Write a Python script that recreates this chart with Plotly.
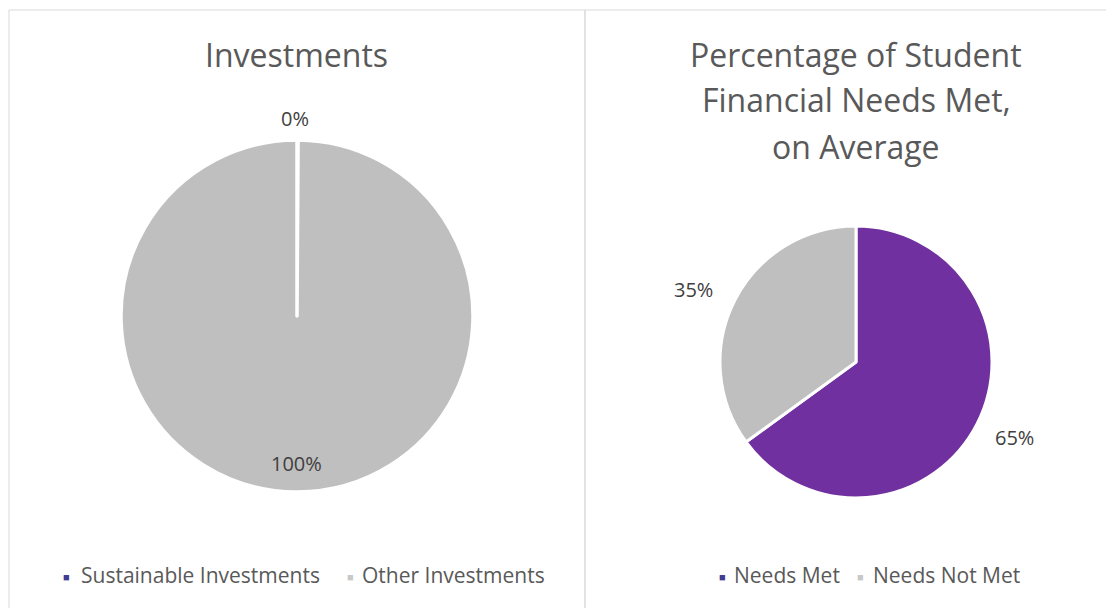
import plotly.graph_objects as go

# data
inv_labels = ["Sustainable Investments", "Other Investments"]
inv_values = [0.1, 99.9]          # shown as 0% / 100%
need_labels = ["Needs Met", "Needs Not Met"]
need_values = [65, 35]

purple = "#7030a0"
legend_purple = "#433a92"
grey = "#bfbfbf"
W, H = 1114, 608
OFF = 8   # page body margin: figure starts 8px in from the window corner
FONT = "Open Sans"


def px(x):
    return (x - OFF) / W


def py(y):
    return 1 - (y - OFF) / H


def pct(vals):
    tot = sum(vals)
    return [f"{round(v / tot * 100)}%" for v in vals]


fig = go.Figure()

fig.add_trace(go.Pie(
    labels=inv_labels, values=inv_values, sort=False, direction="clockwise",
    marker=dict(colors=[purple, grey], line=dict(color="white", width=3.5)),
    textinfo="none", hoverinfo="label+percent", showlegend=False,
    domain=dict(x=[px(121), px(473)], y=[py(492), py(140)]),
))
fig.add_trace(go.Pie(
    labels=need_labels, values=need_values, sort=False, direction="clockwise",
    marker=dict(colors=[purple, grey], line=dict(color="white", width=3)),
    textinfo="none", hoverinfo="label+percent", showlegend=False,
    domain=dict(x=[px(720), px(992)], y=[py(498), py(226)]),
))

ann = []


def text(x, y, s, size=20, color="#404040", anchor="center", weight="normal"):
    ann.append(dict(x=px(x), y=py(y), xref="paper", yref="paper", text=s,
                    showarrow=False, xanchor=anchor, yanchor="middle",
                    font=dict(family=FONT, size=size, color=color, weight=weight)))


# titles
text(297, 54, "Investments", size=32, color="#595959")
for i, line in enumerate(["Percentage of Student", "Financial Needs Met,", "on Average"]):
    text(856, 54 + 46 * i, line, size=32, color="#595959")

# data labels
inv_pct = pct(inv_values)
need_pct = pct(need_values)
text(295, 119, inv_pct[0])
text(297, 463, inv_pct[1])
text(1014, 437, need_pct[0])
text(693, 289, need_pct[1])


# legends
def legend_item(xsq, xtxt, y, label, color):
    text(xsq, y + 1, "■", size=11, color=color)
    text(xtxt, y, label, size=21, color="#595959", anchor="left")


legend_item(66, 79, 575, inv_labels[0], legend_purple)
legend_item(350, 360, 575, inv_labels[1], "#c8c8c8")
legend_item(722, 732, 575, need_labels[0], legend_purple)
legend_item(860, 871, 575, need_labels[1], "#c8c8c8")

# cut-off text above the charts
ann.append(dict(x=px(46), y=py(7), xref="paper", yref="paper", text="Needs.",
                showarrow=False, xanchor="right", yanchor="bottom",
                font=dict(family="Liberation Sans", size=20, color="#000000",
                          weight="bold")))

shapes = [
    dict(type="rect", xref="paper", yref="paper", x0=px(9), x1=px(585),
         y0=py(640), y1=py(10), line=dict(color="#d9d9d9", width=1)),
    dict(type="rect", xref="paper", yref="paper", x0=px(585), x1=px(1140),
         y0=py(640), y1=py(10), line=dict(color="#d9d9d9", width=1)),
]

fig.update_layout(
    width=W, height=H, margin=dict(l=0, r=0, t=0, b=0),
    paper_bgcolor="white", plot_bgcolor="white",
    annotations=ann, shapes=shapes, showlegend=False,
    font=dict(family=FONT),
)

fig.write_html("out.html")
